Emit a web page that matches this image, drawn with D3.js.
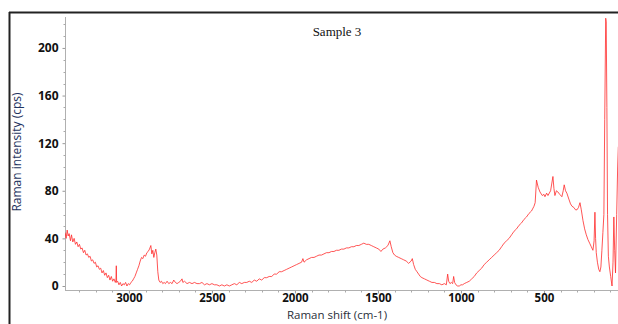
<!DOCTYPE html>
<html>
<head>
<meta charset="utf-8">
<script src="https://cdn.jsdelivr.net/npm/d3@7"></script>
<style>
  body { margin: 0; background: #fff; }
  svg { display: block; }
</style>
</head>
<body>
<div id="chart"></div>
<script>
// spectrum (shift cm-1, intensity cps)
const shifts = [
  3385, 3378, 3372, 3366, 3360, 3352, 3346, 3338, 3330, 3322, 3314, 3306, 3298, 3290, 3282, 3274,
  3266, 3258, 3250, 3242, 3234, 3226, 3218, 3210, 3202, 3194, 3186, 3178, 3170, 3162, 3154, 3146,
  3138, 3130, 3122, 3114, 3106, 3098, 3090, 3082, 3078, 3076, 3074, 3068, 3060, 3052, 3044, 3036,
  3028, 3020, 3012, 3004, 2996, 2988, 2980, 2972, 2964, 2956, 2948, 2940, 2932, 2924, 2916, 2908,
  2900, 2892, 2884, 2876, 2868, 2862, 2856, 2850, 2844, 2838, 2832, 2826, 2820, 2812, 2804, 2796,
  2788, 2780, 2770, 2760, 2750, 2740, 2730, 2720, 2710, 2700, 2690, 2680, 2675, 2665, 2650, 2635,
  2620, 2605, 2590, 2575, 2560, 2545, 2530, 2515, 2500, 2485, 2470, 2455, 2440, 2425, 2410, 2395,
  2380, 2365, 2350, 2335, 2320, 2305, 2290, 2275, 2260, 2245, 2230, 2215, 2200, 2185, 2170, 2155,
  2140, 2125, 2110, 2095, 2080, 2065, 2050, 2035, 2020, 2005, 1990, 1975, 1960, 1952, 1945, 1930,
  1915, 1900, 1885, 1870, 1855, 1840, 1825, 1810, 1795, 1780, 1765, 1750, 1735, 1720, 1705, 1690,
  1675, 1660, 1645, 1630, 1615, 1600, 1585, 1570, 1555, 1540, 1525, 1510, 1495, 1482, 1470, 1455,
  1440, 1428, 1420, 1410, 1400, 1390, 1375, 1360, 1345, 1330, 1315, 1300, 1293, 1285, 1275, 1265,
  1255, 1245, 1235, 1220, 1205, 1190, 1175, 1160, 1145, 1130, 1115, 1100, 1088, 1080, 1074, 1066,
  1058, 1050, 1044, 1038, 1030, 1020, 1010, 1000, 990, 980, 965, 950, 935, 920, 905, 890,
  875, 860, 845, 830, 815, 800, 785, 770, 755, 740, 725, 710, 695, 680, 665, 650,
  635, 620, 605, 590, 575, 560, 553, 545, 535, 524, 510, 500, 494, 484, 476, 460,
  446, 440, 434, 425, 416, 405, 392, 384, 378, 370, 362, 350, 340, 331, 320, 310,
  301, 292, 283, 275, 265, 255, 245, 235, 225, 215, 205, 198, 193, 189, 185, 178,
  170, 163, 157, 151, 145, 139, 134, 128, 125, 121, 117, 112, 106, 98, 90, 84,
  79, 74, 69, 62, 56, 52
];
const intensities = [
  45, 40, 47, 42, 44, 38, 43, 37, 40, 35, 37, 33, 35, 31, 32, 28,
  30, 26, 27, 24, 25, 21, 22, 19, 20, 16, 17, 14, 15, 11, 13, 9,
  11, 7, 9, 5, 8, 4, 6, 3, 5, 17, 3, 4, 1, 3, 0, 2,
  1, 3, 0, 2, 1, 3, 4, 6, 8, 11, 14, 17, 21, 24, 23, 26,
  25, 28, 29, 31, 34, 27, 30, 24, 28, 31, 26, 12, 5, 3, 4, 2,
  3, 2, 4, 2, 3, 2, 5, 3, 2, 3, 4, 6, 3, 4, 2, 3,
  2, 3, 2, 2, 3, 1, 2, 1, 2, 1, 1, 0, 1, 0, 1, 0,
  1, 2, 1, 3, 2, 3, 3, 4, 3, 5, 4, 6, 5, 7, 7, 8,
  8, 10, 10, 12, 12, 13, 14, 15, 16, 17, 18, 19, 20, 23, 20, 22,
  23, 24, 24, 25, 26, 26, 27, 28, 28, 29, 29, 30, 30, 31, 31, 32,
  32, 33, 33, 34, 34, 35, 36, 35, 35, 34, 33, 32, 31, 29, 31, 32,
  34, 38, 33, 28, 26, 25, 24, 23, 22, 21, 19, 21, 23, 18, 14, 12,
  10, 8, 7, 6, 5, 4, 3, 3, 2, 2, 1, 2, 1, 10, 4, 2,
  3, 2, 8, 3, 1, 0, 0, 1, 1, 2, 3, 4, 6, 8, 11, 13,
  15, 18, 20, 22, 24, 26, 28, 30, 33, 36, 38, 40, 43, 46, 48, 51,
  53, 56, 58, 61, 63, 67, 70, 89, 83, 79, 76, 77, 75, 78, 76, 80,
  92, 82, 76, 80, 79, 77, 75, 80, 85, 80, 78, 73, 69, 67, 66, 64,
  64, 66, 70, 64, 55, 48, 43, 39, 36, 33, 30, 38, 62, 40, 28, 20,
  14, 12, 16, 30, 45, 60, 140, 225, 222, 150, 60, 25, 16, 8, 0, 20,
  58, 30, 11, 60, 100, 117
];

const yTicks = [0, 40, 80, 120, 160, 200];
const xTicks = [3000, 2500, 2000, 1500, 1000, 500];

const W = 618, H = 324;
const plotLeft = 65, plotRight = 618, plotTop = 17, zeroY = 286, axisY = 290;

const svg = d3.select('#chart')
  .append('svg')
  .attr('width', W)
  .attr('height', H);

// frame lines (top + left)
svg.append('line')
  .attr('x1', 9).attr('x2', W).attr('y1', 12.5).attr('y2', 12.5)
  .attr('stroke', '#222').attr('stroke-width', 2);
svg.append('line')
  .attr('x1', 9.5).attr('x2', 9.5).attr('y1', 12).attr('y2', H)
  .attr('stroke', '#222').attr('stroke-width', 2);

let x = d3.scaleLinear()
  .domain([3385, 54])
  .range([plotLeft, plotRight]);

let y = d3.scaleLinear()
  .domain([0, 226])
  .range([zeroY, plotTop]);

// y axis
let yAxis = d3.axisLeft(y)
  .tickValues(yTicks)
  .tickFormat(d3.format('d'))
  .tickSize(3)
  .tickPadding(4);
let gy = svg.append('g')
  .attr('transform', `translate(${plotLeft + 0.5}, 0)`)
  .call(yAxis);
gy.select('.domain').remove();
gy.append('line')
  .attr('x1', 0).attr('x2', 0).attr('y1', plotTop).attr('y2', axisY)
  .attr('stroke', '#b0b0b0');
gy.selectAll('.tick line').attr('stroke', '#999');
gy.selectAll('text')
  .attr('fill', '#111')
  .style('font', 'bold 12px "Open Sans", sans-serif');
// minor ticks every 10
gy.selectAll('.minor')
  .data(d3.range(10, 226, 10).filter(v => v % 40 !== 0))
  .enter()
  .append('line')
  .attr('x1', -2).attr('x2', 0)
  .attr('y1', d => Math.round(y(d)) + 0.5).attr('y2', d => Math.round(y(d)) + 0.5)
  .attr('stroke', '#aaa');

// x axis
let xAxis = d3.axisBottom(x)
  .tickValues(xTicks)
  .tickFormat(d3.format('d'))
  .tickSize(3)
  .tickPadding(0);
let gx = svg.append('g')
  .attr('transform', `translate(0, ${axisY + 0.5})`)
  .call(xAxis);
gx.select('.domain').remove();
gx.append('line')
  .attr('x1', plotLeft).attr('x2', plotRight).attr('y1', 0).attr('y2', 0)
  .attr('stroke', '#b0b0b0');
gx.selectAll('.tick line').attr('stroke', '#999');
gx.selectAll('text')
  .attr('fill', '#111')
  .style('font', 'bold 11.5px "Open Sans", sans-serif');
gx.selectAll('.minor')
  .data(d3.range(3300, 0, -100).filter(v => v % 500 !== 0))
  .enter()
  .append('line')
  .attr('x1', d => Math.round(x(d)) + 0.5).attr('x2', d => Math.round(x(d)) + 0.5)
  .attr('y1', 0).attr('y2', 2)
  .attr('stroke', '#aaa');

// spectrum
svg.append('clipPath').attr('id', 'clip')
  .append('rect')
  .attr('x', plotLeft).attr('y', 14).attr('width', plotRight - plotLeft).attr('height', axisY - 14);

let line = d3.line()
  .x(d => x(d[0]))
  .y(d => y(d[1]));

svg.append('path')
  .datum(d3.zip(shifts, intensities))
  .attr('clip-path', 'url(#clip)')
  .attr('d', line)
  .attr('fill', 'none')
  .attr('stroke', '#ff2a2a')
  .attr('stroke-opacity', 0.8)
  .attr('stroke-width', 1);

// titles
svg.append('text')
  .attr('x', 337).attr('y', 36)
  .attr('text-anchor', 'middle')
  .style('font', '13px "Liberation Serif", serif')
  .attr('fill', '#111')
  .text('Sample 3');

svg.append('text')
  .attr('x', 337).attr('y', 319)
  .attr('text-anchor', 'middle')
  .style('font', '11.5px "Open Sans", sans-serif')
  .attr('fill', '#2a2f3a')
  .text('Raman shift (cm-1)');

svg.append('text')
  .attr('transform', 'translate(21, 152) rotate(-90)')
  .attr('text-anchor', 'middle')
  .style('font', '12px "Open Sans", sans-serif')
  .attr('fill', '#1f3460')
  .text('Raman intensity (cps)');
</script>
</body>
</html>
